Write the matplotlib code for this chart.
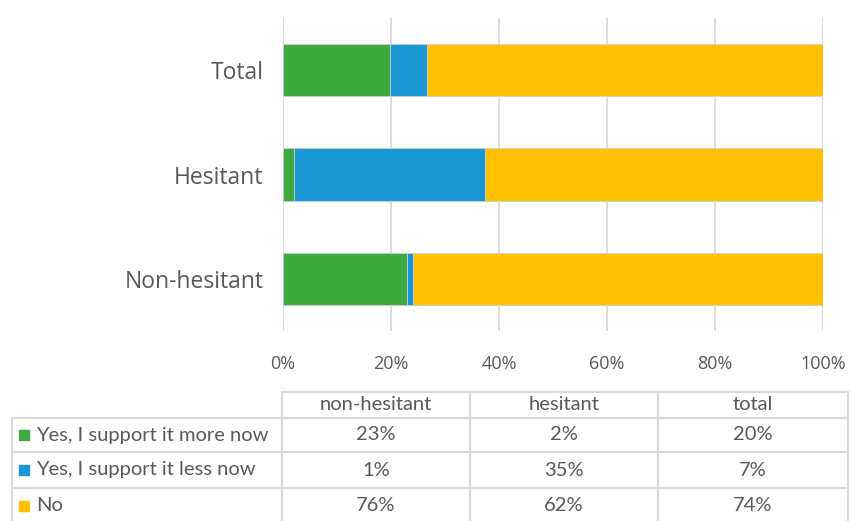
import matplotlib.pyplot as plt

# survey answers per group (percent)
groups = ["Non-hesitant", "Hesitant", "Total"]
answers = ["Yes, I support it more now", "Yes, I support it less now", "No"]
more_now = [23, 2, 20]
less_now = [1, 35, 7]
no_change = [76, 62, 74]
table_cols = ["non-hesitant", "hesitant", "total"]
xticks = [0, 20, 40, 60, 80, 100]

colors = ["#3DA93F", "#1A98D5", "#FFC000"]
grid_color = "#D9D9D9"
text_color = "#595959"

W, H = 851, 521
fig = plt.figure(figsize=(W / 100, H / 100), dpi=100)


def px_axes(x0, y0, x1, y1):
    # box given in pixels, origin at top-left
    return fig.add_axes([x0 / W, 1 - y1 / H, (x1 - x0) / W, (y1 - y0) / H])


# --- 100% stacked bars (each row scaled to its own sum) ---
ax = px_axes(283, 18, 823, 331)
y = range(len(groups))
sums = [a + b + c for a, b, c in zip(more_now, less_now, no_change)]
left = [0] * len(groups)
for vals, col in zip([more_now, less_now, no_change], colors):
    share = [v / s * 100 for v, s in zip(vals, sums)]
    ax.barh(y, share, left=left, height=0.5, color=col, edgecolor="#CFCFCF",
            linewidth=0.6, zorder=3)
    left = [a + b for a, b in zip(left, share)]

ax.set_xlim(0, 100)
ax.set_ylim(-0.5, 2.5)
ax.set_xticks(xticks)
ax.set_xticklabels([f"{t}%" for t in xticks])
ax.set_yticks(list(y))
ax.set_yticklabels(groups)
ax.xaxis.grid(True, color=grid_color, linewidth=1.3, zorder=0)
for s in ax.spines.values():
    s.set_visible(False)
ax.tick_params(axis="x", length=0, pad=17, labelsize=13, labelcolor=text_color)
ax.tick_params(axis="y", length=0, pad=14, labelsize=16.5, labelcolor=text_color)
for lab in ax.get_xticklabels() + ax.get_yticklabels():
    lab.set_family("Open Sans")

# --- data table underneath ---
tb = fig.add_axes([0, 0, 1, 1])
tb.set_xlim(0, W)
tb.set_ylim(H, 0)
tb.axis("off")

col_x = [12, 282, 470, 658, 848]
row_y = [392, 418, 452, 488, 523]
lw = 1.5

# header box (data columns only)
tb.plot([col_x[1], col_x[-1]], [row_y[0], row_y[0]], color=grid_color, lw=lw)
for x in col_x[1:]:
    tb.plot([x, x], [row_y[0], row_y[-1]], color=grid_color, lw=lw)
tb.plot([col_x[0], col_x[0]], [row_y[1], row_y[-1]], color=grid_color, lw=lw)
for yy in row_y[1:]:
    tb.plot([col_x[0], col_x[-1]], [yy, yy], color=grid_color, lw=lw)

font = "Lato"
fs = 14.5
for j, name in enumerate(table_cols):
    cx = (col_x[j + 1] + col_x[j + 2]) / 2
    tb.text(cx, (row_y[0] + row_y[1]) / 2, name, ha="center", va="center",
            fontsize=fs, color=text_color, family=font)

rows = [more_now, less_now, no_change]
for i, (label, vals, col) in enumerate(zip(answers, rows, colors)):
    cy = (row_y[i + 1] + row_y[i + 2]) / 2
    tb.add_patch(plt.Rectangle((19, cy - 5), 10, 10, color=col))
    tb.text(36, cy, label, ha="left", va="center", fontsize=fs,
            color=text_color, family=font)
    for j, v in enumerate(vals):
        cx = (col_x[j + 1] + col_x[j + 2]) / 2
        tb.text(cx, cy, f"{v}%", ha="center", va="center", fontsize=fs,
                color=text_color, family=font)

fig.savefig("out.png", dpi=100)
